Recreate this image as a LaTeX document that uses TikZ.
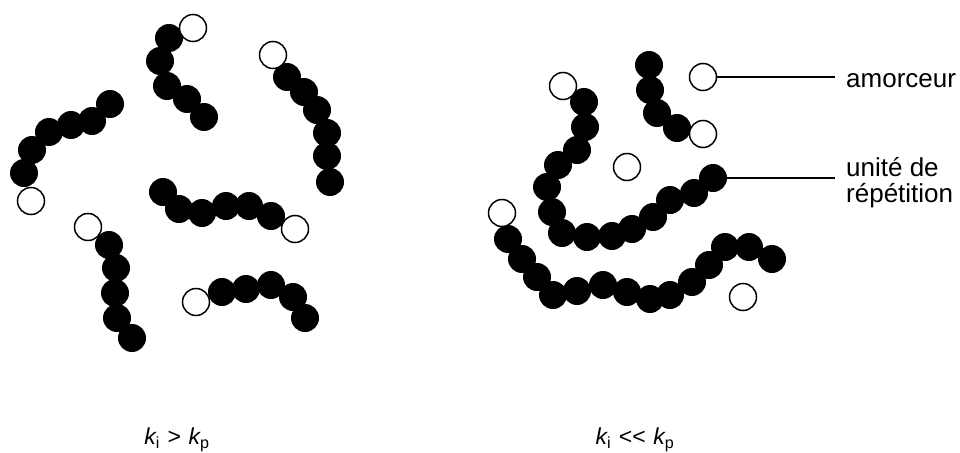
\documentclass[tikz,border=0pt]{standalone}
\usepackage{fontspec}
\setmainfont{Liberation Sans}
\begin{document}
\begin{tikzpicture}[x=1pt,y=-1pt,
  bead/.style={circle,fill=black,minimum size=28pt,inner sep=0pt},
  ini/.style={circle,draw=black,line width=1.5pt,fill=white,minimum size=27pt,inner sep=0pt},
  conn/.style={line width=1.8pt},
  lbl/.style={font=\fontsize{26}{26}\selectfont,inner sep=0pt,align=left},
  klbl/.style={font=\fontsize{23}{26}\selectfont,inner sep=0pt}]
\useasboundingbox (0,0) rectangle (960,452);
% ---------- left panel ----------
\foreach \x/\y [count=\i] in {169/38,160/61,167/86,187/99,204/117} \node[bead] (a\i) at (\x,\y) {};
\node[ini] (a0) at (193,28) {};
\foreach \x/\y [count=\i] in {287/77,304/92,317/110,327/133,327/156,330/182} \node[bead] (b\i) at (\x,\y) {};
\node[ini] (b0) at (273,55) {};
\foreach \x/\y [count=\i] in {110/104,92/121,71/125,49/132,32/150,24/173} \node[bead] (c\i) at (\x,\y) {};
\node[ini] (c0) at (31,201) {};
\foreach \x/\y [count=\i] in {163/192,179/209,202/213,226/206,249/206,271/216} \node[bead] (d\i) at (\x,\y) {};
\node[ini] (d0) at (295,229) {};
\foreach \x/\y [count=\i] in {109/245,116/268,115/293,117/318,132/338} \node[bead] (e\i) at (\x,\y) {};
\node[ini] (e0) at (88,227) {};
\foreach \x/\y [count=\i] in {222/292,246/289,271/285,293/297,305/318} \node[bead] (f\i) at (\x,\y) {};
\node[ini] (f0) at (196,302) {};
% ---------- right panel ----------
\foreach \x/\y [count=\i] in {649/65,650/90,657/113,677/128} \node[bead] (g\i) at (\x,\y) {};
\node[ini] (g0) at (703,134) {};
\foreach \x/\y [count=\i] in {584/102,585/127,577/150,558/165,547/187,552/212,562/233,587/237,612/236,632/229,653/217,670/200,694/193,713/178} \node[bead] (h\i) at (\x,\y) {};
\node[ini] (h0) at (563,86) {};
\foreach \x/\y [count=\i] in {508/239,522/259,537/277,553/295,577/291,603/285,627/292,650/299,670/295,692/282,709/265,725/247,749/247,772/259} \node[bead] (i\i) at (\x,\y) {};
\node[ini] (i0) at (502,213) {};
\node[ini] (am) at (703,77) {};
\node[ini] (fr1) at (627,167) {};
\node[ini] (fr2) at (743,297) {};
% ---------- labels ----------
\node[lbl,anchor=base west] (lam) at (846,87) {amorceur};
\node[lbl,anchor=west] (lru) at (846,183) {unité de\\répétition};
\coordinate (e1) at ([xshift=-11pt]am -| lam.west);
\coordinate (e2) at ([xshift=-11pt]h14 -| lru.west);
\draw[conn] (am) -- (e1);
\draw[conn] (h14) -- (e2);
\node[klbl] (k1) at (177,440) {{\itshape k}\textsubscript{i}\,\,>\,\,{\itshape k}\textsubscript{p}};
\node[klbl] (k2) at (635,440) {{\itshape k}\textsubscript{i}\,\,<{}<\,\,{\itshape k}\textsubscript{p}};
\end{tikzpicture}
\end{document}
